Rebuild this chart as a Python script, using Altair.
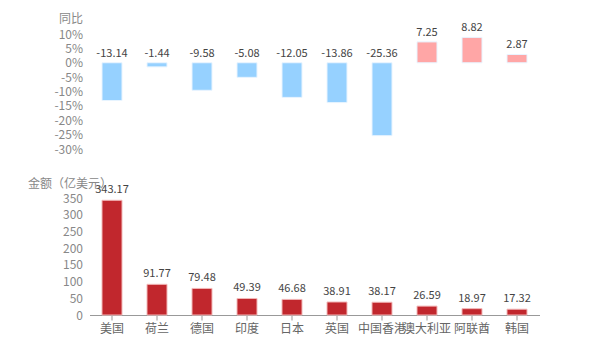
import altair as alt
import pandas as pd

countries = ["美国", "荷兰", "德国", "印度", "日本", "英国", "中国香港", "澳大利亚", "阿联酋", "韩国"]
yoy = [-13.14, -1.44, -9.58, -5.08, -12.05, -13.86, -25.36, 7.25, 8.82, 2.87]
amount = [343.17, 91.77, 79.48, 49.39, 46.68, 38.91, 38.17, 26.59, 18.97, 17.32]
yoy_ticks = [-30, -25, -20, -15, -10, -5, 0, 5, 10]
amount_ticks = [0, 50, 100, 150, 200, 250, 300, 350]

df = pd.DataFrame({"country": countries, "yoy": yoy, "amount": amount})
df["yoy_label_pos"] = df["yoy"].clip(lower=0)
df["sign"] = ["neg" if v < 0 else "pos" for v in yoy]
df["yoy_txt"] = [f"{v:.2f}" for v in yoy]
df["amount_txt"] = [f"{v:.2f}" for v in amount]

FONT = "Microsoft YaHei, Noto Sans CJK SC, sans-serif"
xscale = alt.Scale(paddingInner=0.556, paddingOuter=0.278)
yscale_top = alt.Scale(domain=[-30, 10], nice=False)
yscale_bot = alt.Scale(domain=[0, 350], nice=False)

yaxis_top = alt.Axis(values=yoy_ticks, labelExpr="datum.value + '%'",
                     labelOverlap=False, labelFlush=False,
                     title="同比", titleAngle=0, titleAlign="right", titleX=-7, titleY=-16,
                     titleBaseline="middle", titleFontWeight="normal", titleFontSize=12,
                     titleColor="#888", grid=False, domain=False, ticks=False,
                     labelPadding=7, labelColor="#888", labelFontSize=12, labelFont=FONT,
                     titleFont=FONT)
yaxis_bot = alt.Axis(values=amount_ticks, title="金额（亿美元）", titleAngle=0,
                     labelOverlap=False, labelFlush=False,
                     titleAlign="left", titleX=-62, titleY=-15, titleBaseline="middle",
                     titleFontWeight="normal", titleFontSize=12, titleColor="#888",
                     grid=False, domain=False, ticks=False, labelPadding=7,
                     labelColor="#888", labelFontSize=12, labelFont=FONT, titleFont=FONT)
xaxis_bot = alt.Axis(title=None, labelAngle=0, labelColor="#666", labelFontSize=12, labelFont=FONT,
                     domainColor="#999", tickColor="#999", tickSize=5, labelPadding=3)

top_base = alt.Chart(df).properties(width=450, height=115)
top_bars = top_base.mark_bar(size=20, stroke="#E8F4FF", strokeWidth=1).encode(
    x=alt.X("country:N", sort=countries, scale=xscale, axis=None),
    y=alt.Y("yoy:Q", scale=yscale_top, axis=yaxis_top),
    color=alt.Color("sign:N", scale=alt.Scale(domain=["neg", "pos"], range=["#96D1FF", "#FFA6A6"]), legend=None),
)
top_text = top_base.mark_text(baseline="bottom", dy=-4, fontSize=11, color="#444", font=FONT).encode(
    x=alt.X("country:N", sort=countries, scale=xscale, axis=None),
    y=alt.Y("yoy_label_pos:Q", scale=yscale_top, axis=yaxis_top),
    text=alt.Text("yoy_txt:N"),
)
top = alt.layer(top_bars, top_text)

bot_base = alt.Chart(df).properties(width=450, height=117)
bot_bars = bot_base.mark_bar(size=20, color="#C1272D", stroke="#F2B8B8", strokeWidth=1).encode(
    x=alt.X("country:N", sort=countries, scale=xscale, axis=xaxis_bot),
    y=alt.Y("amount:Q", scale=yscale_bot, axis=yaxis_bot),
)
bot_text = bot_base.mark_text(baseline="bottom", dy=-5, fontSize=11, color="#444", font=FONT).encode(
    x=alt.X("country:N", sort=countries, scale=xscale, axis=xaxis_bot),
    y=alt.Y("amount:Q", scale=yscale_bot, axis=yaxis_bot),
    text=alt.Text("amount_txt:N"),
)
bot = alt.layer(bot_bars, bot_text)

chart = alt.vconcat(top, bot, spacing=49, bounds="flush").properties(
    padding={"left": 27.5, "top": 12, "right": 10, "bottom": 5},
).configure_view(stroke=None).configure_axis(labelOverlap=False)

chart.save("out.html", embed_options={"renderer": "svg", "actions": False})
